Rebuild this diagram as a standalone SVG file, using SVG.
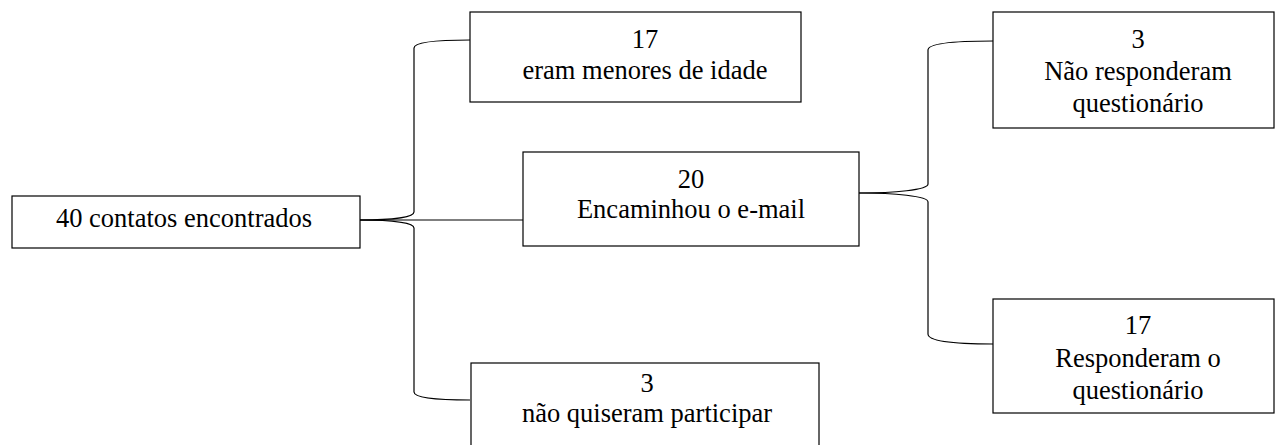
<svg xmlns="http://www.w3.org/2000/svg" width="1275" height="445" viewBox="0 0 1275 445">
<style>
.n rect{fill:#fff;stroke:#000;stroke-width:1.2}
text{font-family:"Liberation Serif","Times New Roman",Times,"DejaVu Serif",serif;font-size:26.5px;fill:#000;text-anchor:middle}
.c path{fill:none;stroke:#000;stroke-width:1.2}
</style>
<rect width="1275" height="445" fill="#fff"/>
<g class="c" id="connectors">
<path d="M360,220 H523"/>
<path d="M360,220 C394,220 414,217 414,212 V48 C414,43 432,40 470,40"/>
<path d="M360,220 C394,220 414,223 414,228 V392 C414,397 432,400 470,400"/>
<path d="M859,193 C894,193 928,190 928,184 V50 C928,44 948,41 993,41"/>
<path d="M859,193 C894,193 928,196 928,202 V334 C928,340 948,344 993,344"/>
</g>
<g class="n" id="root">
<rect x="12" y="196" width="348" height="52"/>
<text x="184" y="227">40 contatos encontrados</text>
</g>
<g class="n" id="menores">
<rect x="470" y="12" width="331" height="90"/>
<text x="645" y="48">17</text>
<text x="645" y="79">eram menores de idade</text>
</g>
<g class="n" id="encaminhou">
<rect x="523" y="152" width="336" height="94"/>
<text x="691" y="188">20</text>
<text x="691" y="218">Encaminhou o e-mail</text>
</g>
<g class="n" id="naoquiseram">
<rect x="471" y="363" width="348" height="100"/>
<text x="647" y="392">3</text>
<text x="647" y="422">não quiseram participar</text>
</g>
<g class="n" id="naoresponderam">
<rect x="993" y="12" width="281" height="116"/>
<text x="1138" y="48">3</text>
<text x="1138" y="80">Não responderam</text>
<text x="1138" y="112">questionário</text>
</g>
<g class="n" id="responderam">
<rect x="993" y="299" width="281" height="114"/>
<text x="1138" y="334">17</text>
<text x="1138" y="367">Responderam o</text>
<text x="1138" y="399">questionário</text>
</g>
</svg>
